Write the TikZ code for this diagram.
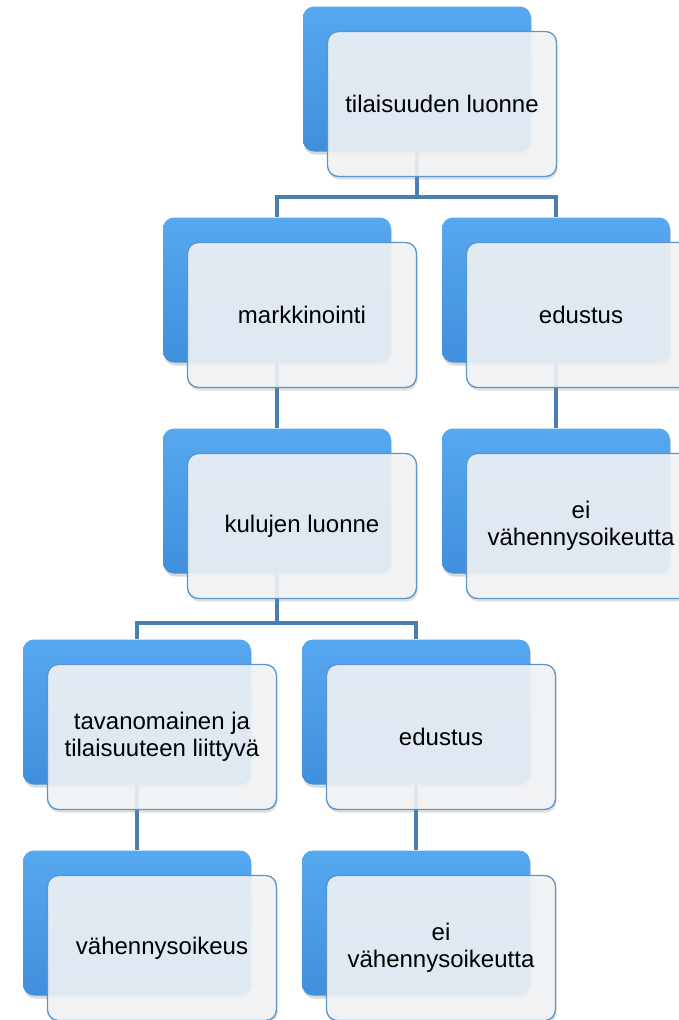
\documentclass[tikz,border=0pt]{standalone}
\usepackage{fontspec}
\setmainfont{Liberation Sans}
\usetikzlibrary{shadows}
\definecolor{conn}{HTML}{4A7EB1}
\definecolor{blueT}{HTML}{56A8EF}
\definecolor{blueM}{HTML}{4A9DE8}
\definecolor{blueB}{HTML}{408FDC}
\definecolor{frameC}{HTML}{5A95CD}
\definecolor{frontC}{HTML}{F4F5F7}
\pgfdeclarelayer{bg}
\pgfsetlayers{bg,main}
\begin{document}
\begin{tikzpicture}[x=1pt,y=-1pt,
  back/.style={minimum width=228pt, minimum height=145pt, inner sep=0pt,
    rounded corners=11pt, top color=blueT, middle color=blueM, bottom color=blueB, draw=none,
    drop shadow={opacity=0.3, shadow xshift=1pt, shadow yshift=-3pt}},
  front/.style={minimum width=229pt, minimum height=145pt, inner sep=2pt,
    rounded corners=11pt, draw=frameC, line width=1.3pt, fill=frontC,
    fill opacity=0.88, text opacity=1, align=center,
    font=\fontsize{24}{27}\selectfont,
    drop shadow={opacity=0.25, shadow xshift=1pt, shadow yshift=-3pt}},
  link/.style={draw=conn, line width=4.6pt}]
\useasboundingbox (0,0) rectangle (679,1020);

% level 1
\node[back] (b1) at (417,79) {};
\node[front] (f1) at (442,104) {tilaisuuden luonne};
% level 2
\node[back] (b2) at (277,290) {};
\node[front] (f2) at (302,315) {markkinointi};
\node[back] (b3) at (556,290) {};
\node[front] (f3) at (581,315) {edustus};
% level 3
\node[back] (b4) at (277,501) {};
\node[front] (f4) at (302,526) {kulujen luonne};
\node[back] (b5) at (556,501) {};
\node[front] (f5) at (581,526) {ei\\vähennysoikeutta};
% level 4
\node[back] (b6) at (137,712) {};
\node[front] (f6) at (162,737) {tavanomainen ja\\tilaisuuteen liittyvä};
\node[back] (b7) at (416,712) {};
\node[front] (f7) at (441,737) {edustus};
% level 5
\node[back] (b8) at (137,923) {};
\node[front] (f8) at (162,948) {vähennysoikeus};
\node[back] (b9) at (416,923) {};
\node[front] (f9) at (441,948) {ei\\vähennysoikeutta};

\coordinate (j1) at (417,197);
\coordinate (j2) at (277,623);
\begin{pgfonlayer}{bg}
  \fill[white] (0,0) rectangle (679,1020);
  \draw[link] (b1.south) -- (j1) -| (b2.north);
  \draw[link] (j1) -| (b3.north);
  \draw[link] (b2.south) -- (b4.north);
  \draw[link] (b3.south) -- (b5.north);
  \draw[link] (b4.south) -- (j2) -| (b6.north);
  \draw[link] (j2) -| (b7.north);
  \draw[link] (b6.south) -- (b8.north);
  \draw[link] (b7.south) -- (b9.north);
\end{pgfonlayer}
\end{tikzpicture}
\end{document}
